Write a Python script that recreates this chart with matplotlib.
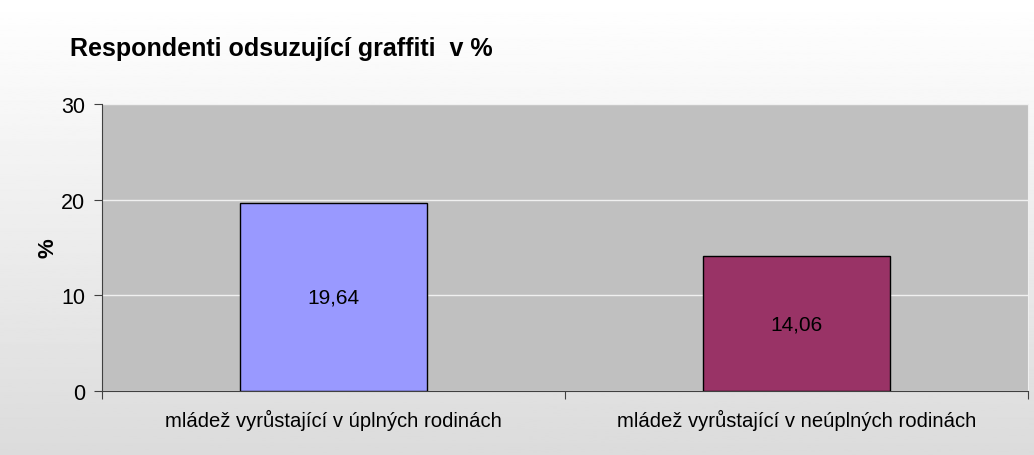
import numpy as np
import matplotlib.pyplot as plt

# data
categories = ['mládež vyrůstající v úplných rodinách', 'mládež vyrůstající v neúplných rodinách']
values = [19.64, 14.06]
value_labels = ['19,64', '14,06']
bar_colors = ['#9999ff', '#993366']
yticks = [0, 10, 20, 30]

plt.rcParams['font.family'] = ['Liberation Sans', 'DejaVu Sans']

fig = plt.figure(figsize=(10.34, 4.56), dpi=100)

# gradient background
bg = fig.add_axes([0, 0, 1, 1], zorder=-10)
grad = np.linspace(1.0, 0.86, 256).reshape(-1, 1)
bg.imshow(grad, aspect='auto', cmap='gray', vmin=0, vmax=1, extent=[0, 1, 0, 1])
bg.axis('off')

ax = fig.add_axes([102 / 1034, 64 / 456, 926 / 1034, 287 / 456])
ax.set_facecolor('#c0c0c0')

x = np.arange(len(categories))
ax.bar(x, values, width=0.405, color=bar_colors, edgecolor='black', linewidth=1, zorder=3)
for xi, v, lab in zip(x, values, value_labels):
    ax.text(xi, v / 2, lab, ha='center', va='center', fontsize=15, zorder=4)

ax.set_xlim(-0.5, 1.5)
ax.set_ylim(0, 30)
ax.set_yticks(yticks)
ax.set_yticklabels([str(t) for t in yticks], fontsize=15.5)
ax.yaxis.grid(True, color='#f0f0f0', linewidth=1)
ax.set_axisbelow(True)

# category ticks at the boundaries
ax.set_xticks([-0.5, 0.5, 1.5])
ax.set_xticklabels([])
ax.set_xticks(x, minor=True)
ax.set_xticklabels(categories, minor=True, fontsize=14.6)
ax.tick_params(axis='x', which='minor', length=0, pad=13)
ax.tick_params(axis='x', which='major', length=6, color='#404040')
ax.tick_params(axis='y', length=6, color='#404040', pad=6)

ax.spines['top'].set_visible(False)
ax.spines['right'].set_color('#f0f0f0')
ax.spines['left'].set_color('#404040')
ax.spines['bottom'].set_color('#404040')

ax.set_ylabel('%', fontsize=16, fontweight='bold', labelpad=2)

fig.text(70 / 1034, 1 - 49 / 456, 'Respondenti odsuzující graffiti  v %', fontsize=18,
         fontweight='bold', ha='left', va='center')

fig.savefig('out.png', dpi=100)
